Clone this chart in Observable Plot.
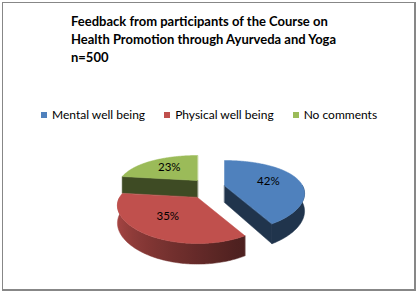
<!DOCTYPE html>
<html><head><meta charset="utf-8">
<script src="https://cdn.jsdelivr.net/npm/d3@7"></script>
<script src="https://cdn.jsdelivr.net/npm/@observablehq/plot@0.6"></script>
<style>
body{margin:0;background:#fff;}
#wrap{position:relative;width:418px;height:293px;overflow:hidden;font-family:Lato,"Open Sans",sans-serif;color:#000;}
#frame{position:absolute;left:2px;top:2px;width:411px;height:286px;border:1px solid #878787;border-right-width:2px;border-bottom-width:2px;}
#title{position:absolute;left:71px;top:12px;font-weight:bold;font-size:13px;line-height:18px;white-space:nowrap;}
#legend{position:absolute;top:107px;left:41px;display:flex;gap:19px;font-size:12px;line-height:16px;white-space:nowrap;}
#legend .it{display:flex;align-items:center;}
#legend .sw{width:6px;height:6px;margin-right:5px;}
#plot{position:absolute;left:0;top:0;}
</style></head>
<body>
<div id="wrap">
  <div id="frame"></div>
  <div id="plot"></div>
  <div id="title"></div>
  <div id="legend"></div>
</div>
<script>
// ---- data ----
const titleLines = ["Feedback from participants of the Course on", "Health Promotion through Ayurveda and Yoga", "n=500"];
const categories = ["Mental well being", "Physical well being", "No comments"];
const percents = [42, 35, 23];
const colors = ["#4F81BD", "#C0504D", "#9BBB59"];

// ---- layout (3D pie projection) ----
const sliceCenters = [[224, 185], [197, 197], [197, 180]];
const R = 78, RY = 32.4, K = 0.296, DEPTH = 17, LABEL_R = 0.6;
const drawOrder = [2, 0, 1];

document.getElementById("title").innerHTML = titleLines.map(t => `<div>${t}</div>`).join("");
document.getElementById("legend").innerHTML = categories.map((c, i) =>
  `<div class="it"><div class="sw" style="background:${colors[i]}"></div><span>${c}</span></div>`).join("");

const rad = d => d * Math.PI / 180;
function proj(i, th, r, dz) {
  const [cx, cy] = sliceCenters[i];
  const X = r * Math.sin(rad(th)), Y = r * Math.cos(rad(th));
  const s = 1 / (1 + K * Y);
  return {x: cx + R * X * (1 + 0.75 * (s - 1)), y: cy - RY * Y * s + dz * (1 + 0.5 * (s - 1))};
}
const total = d3.sum(percents);
const starts = [];
let acc = 0;
percents.forEach(p => { starts.push(acc / total * 360); acc += p; });
const ends = percents.map((p, i) => starts[i] + p / total * 360);

function shade(i, th) {
  const t = Math.min(0.6, 0.1 + 0.52 * Math.abs(th - 255) / 104);
  return d3.interpolateRgb(colors[i], "#000")(t);
}

const polys = [];
let pid = 0;
function addPoly(pts, c) { const id = pid++; pts.forEach(p => polys.push({id, x: p.x, y: p.y, c})); }
const labels = [];
const gradients = [];

for (const i of drawOrder) {
  const a = starts[i], b = ends[i];
  const dark = d3.interpolateRgb(colors[i], "#000")(0.6);
  // radial walls
  if (Math.sin(rad(a)) < -0.05)
    addPoly([proj(i, a, 0, 0), proj(i, a, 1, 0), proj(i, a, 1, DEPTH), proj(i, a, 0, DEPTH)], dark);
  if (Math.sin(rad(b)) > 0.05)
    addPoly([proj(i, b, 0, 0), proj(i, b, 1, 0), proj(i, b, 1, DEPTH), proj(i, b, 0, DEPTH)], dark);
  // outer wall (front-facing part) with horizontal gradient
  const lo = Math.max(a, 90), hi = Math.min(b, 270);
  if (hi > lo) {
    const n = Math.ceil(hi - lo);
    const top = [], bot = [], samples = [];
    for (let j = 0; j <= n; j++) {
      const t = lo + (hi - lo) * j / n;
      top.push(proj(i, t, 1, 0));
      bot.push(proj(i, t, 1, DEPTH));
      if (j % 6 === 0 || j === n) samples.push({x: top[j].x, c: shade(i, t)});
    }
    const x1 = d3.min(samples, d => d.x), x2 = d3.max(samples, d => d.x);
    const gid = "wall" + i;
    gradients.push({gid, x1, x2, stops: samples.map(d => ({o: (d.x - x1) / (x2 - x1), c: d.c})).sort((p, q) => p.o - q.o)});
    addPoly(top.concat(bot.reverse()), `url(#${gid})`);
  }
  // top face
  const face = [proj(i, a, 0, 0)];
  const m = Math.ceil(b - a);
  for (let j = 0; j <= m; j++) face.push(proj(i, a + (b - a) * j / m, 1, 0));
  addPoly(face, colors[i]);
  // label along the mid-angle
  const lp = proj(i, (a + b) / 2, LABEL_R, 0);
  labels.push({x: lp.x, y: lp.y, text: percents[i] + "%"});
}

const chart = Plot.plot({
  width: 418, height: 293, margin: 0,
  x: {domain: [0, 418], range: [0, 418], axis: null},
  y: {domain: [0, 293], range: [0, 293], axis: null},
  color: {type: "identity"},
  marks: [
    Plot.line(polys, {x: "x", y: "y", z: "id", fill: "c", stroke: "c", strokeWidth: 0.5, curve: "linear-closed"}),
    Plot.text(labels, {x: "x", y: "y", text: "text", fontSize: 11.5, fill: "#000", fontFamily: "Lato, sans-serif"})
  ]
});
const defs = d3.select(chart).insert("defs", ":first-child");
for (const g of gradients) {
  const lg = defs.append("linearGradient").attr("id", g.gid).attr("gradientUnits", "userSpaceOnUse")
    .attr("x1", g.x1).attr("x2", g.x2).attr("y1", 0).attr("y2", 0);
  for (const s of g.stops) lg.append("stop").attr("offset", s.o).attr("stop-color", s.c);
}
document.getElementById("plot").appendChild(chart);
</script>
</body></html>
